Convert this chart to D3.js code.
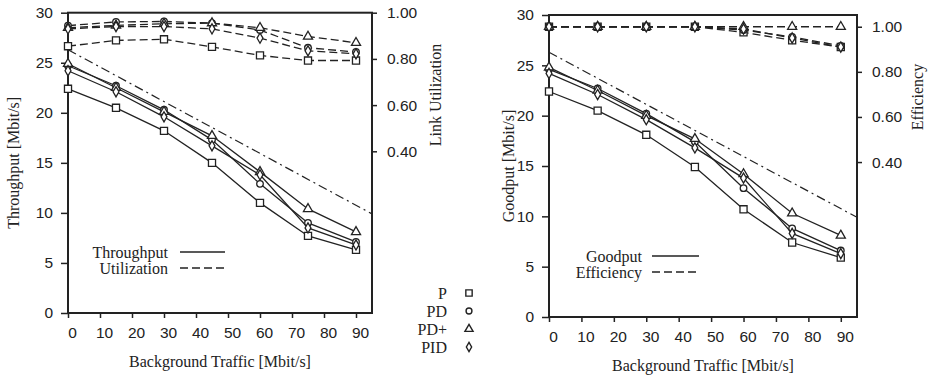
<!DOCTYPE html>
<html>
<head>
<meta charset="utf-8">
<script src="https://cdn.jsdelivr.net/npm/d3@7"></script>
<style>
  html, body { margin: 0; padding: 0; background: #fff; }
  svg { display: block; font-family: "Liberation Serif", "DejaVu Serif", serif; }
</style>
</head>
<body>
<svg id="chart" width="932" height="377"></svg>
<script>
// ---------- data ----------
const bgTraffic = [0, 15, 30, 45, 60, 75, 90];
const controllers = ["P", "PD", "PD+", "PID"];
const xTicks = [0, 10, 20, 30, 40, 50, 60, 70, 80, 90];
const yTicks = [0, 5, 10, 15, 20, 25, 30];
const rightTicks = [0.4, 0.6, 0.8, 1.0];

const throughputP     = [22.4, 20.5, 18.2, 15.0, 11.0, 7.7, 6.3];
const throughputPD    = [24.7, 22.7, 20.3, 17.3, 12.9, 9.0, 7.1];
const throughputPDp   = [24.9, 22.5, 20.1, 17.7, 14.1, 10.4, 8.1];
const throughputPID   = [24.2, 22.1, 19.6, 16.7, 13.8, 8.5, 6.8];

const utilizationP    = [0.855, 0.880, 0.885, 0.852, 0.815, 0.793, 0.793];
const utilizationPD   = [0.944, 0.960, 0.962, 0.955, 0.925, 0.848, 0.830];
const utilizationPDp  = [0.935, 0.945, 0.952, 0.955, 0.935, 0.897, 0.870];
const utilizationPID  = [0.930, 0.940, 0.940, 0.930, 0.890, 0.835, 0.822];

const goodputP        = [22.4, 20.5, 18.1, 14.9, 10.7, 7.4, 5.9];
const goodputPD       = [24.6, 22.7, 20.2, 17.4, 12.8, 8.8, 6.6];
const goodputPDp      = [24.8, 22.5, 20.0, 17.7, 14.2, 10.3, 8.1];
const goodputPID      = [24.2, 22.1, 19.6, 16.8, 13.8, 8.3, 6.3];

const efficiencyP     = [1.0, 1.0, 1.0, 1.0, 0.975, 0.940, 0.910];
const efficiencyPD    = [1.0, 1.0, 1.0, 1.0, 0.985, 0.955, 0.915];
const efficiencyPDp   = [1.0, 1.0, 1.0, 1.0, 1.0, 1.0, 1.0];
const efficiencyPID   = [1.0, 1.0, 1.0, 1.0, 0.990, 0.950, 0.910];

const refTraffic  = [0, 95];
const refCapacity = [26.3, 9.9];

// ---------- drawing ----------
const INK = "#222";
const svg = d3.select("#chart");
const symbolTypes = [d3.symbolSquare, d3.symbolCircle, d3.symbolTriangle, d3.symbolDiamond];
const symbolSizes = [50, 34, 36, 30];

function panel(cfg) {
  const x = d3.scaleLinear().domain([0, 95]).range([cfg.left, cfg.right]);
  const y = d3.scaleLinear().domain([0, 30]).range([cfg.bottom, cfg.top]);
  const y2 = d3.scaleLinear().domain(cfg.y2Domain).range([cfg.bottom, cfg.top]);
  const g = svg.append("g");

  // axes
  const ax = g.append("g").attr("transform", `translate(0,${cfg.bottom})`)
    .call(d3.axisBottom(x).tickValues(xTicks).tickSize(5).tickSizeOuter(0).tickPadding(9));
  const ay = g.append("g").attr("transform", `translate(${cfg.left},0)`)
    .call(d3.axisLeft(y).tickValues(yTicks).tickSize(7).tickSizeOuter(0).tickPadding(8));
  const ay2 = g.append("g").attr("transform", `translate(${cfg.right},0)`)
    .call(d3.axisRight(y2).tickValues(rightTicks).tickFormat(d3.format(".2f")).tickSize(5).tickSizeOuter(0).tickPadding(10));
  [ax, ay, ay2].forEach(a => {
    a.select(".domain").remove();
    a.selectAll("line").attr("stroke", INK).attr("stroke-width", 1.5);
    a.selectAll("text").attr("fill", INK).style("font-size", "15.5px");
  });
  ax.selectAll("text").attr("dx", 4);

  // frame
  g.append("rect").attr("x", cfg.left).attr("y", cfg.top)
    .attr("width", cfg.right - cfg.left).attr("height", cfg.bottom - cfg.top)
    .attr("fill", "none").attr("stroke", INK).attr("stroke-width", 2);

  // reference dash-dot line
  const refLine = d3.line().x((d, i) => x(refTraffic[i])).y(d => y(d));
  g.append("path").attr("d", refLine(refCapacity)).attr("fill", "none")
    .attr("stroke", INK).attr("stroke-width", 1.2).attr("stroke-dasharray", "9,4,2,4");

  // series
  const solidLine = d3.line().x((d, i) => x(bgTraffic[i])).y(d => y(d));
  const dashLine = d3.line().x((d, i) => x(bgTraffic[i])).y(d => y2(d));
  cfg.solid.forEach(s => g.append("path").attr("d", solidLine(s)).attr("fill", "none")
    .attr("stroke", INK).attr("stroke-width", 1.3));
  cfg.dashed.forEach(s => g.append("path").attr("d", dashLine(s)).attr("fill", "none")
    .attr("stroke", INK).attr("stroke-width", 1.3).attr("stroke-dasharray", "8,4"));

  const markers = (series, scale) => series.forEach((s, k) => {
    g.append("g").selectAll("path").data(s).join("path")
      .attr("transform", (d, i) => `translate(${x(bgTraffic[i])},${scale(d)})`)
      .attr("d", d3.symbol().type(symbolTypes[k]).size(symbolSizes[k]))
      .attr("fill", "#fff").attr("stroke", INK).attr("stroke-width", 1.3);
  });
  markers(cfg.solid, y);
  markers(cfg.dashed, y2);

  // axis titles
  const cx = (cfg.left + cfg.right) / 2;
  g.append("text").attr("x", cx).attr("y", cfg.bottom + 54).attr("text-anchor", "middle")
    .attr("fill", INK).style("font-size", "16px").text("Background Traffic [Mbit/s]");
  g.append("text").attr("transform", `translate(${cfg.yTitleX},${(cfg.top + cfg.bottom) / 2}) rotate(-90)`)
    .attr("text-anchor", "middle").attr("dy", "0.35em").attr("fill", INK).style("font-size", "16px").text(cfg.yTitle);
  g.append("text").attr("transform", `translate(${cfg.y2TitleX},${cfg.y2TitleY}) rotate(-90)`)
    .attr("text-anchor", "middle").attr("dy", "0.35em").attr("fill", INK).style("font-size", "16px").text(cfg.y2Title);

  // line-style legend
  cfg.legend.forEach((lab, i) => {
    const ly = cfg.legendY + i * 16;
    g.append("text").attr("x", cfg.legendTextX).attr("y", ly).attr("dy", "0.35em")
      .attr("text-anchor", "end").attr("fill", INK).style("font-size", "16px").text(lab);
    g.append("line").attr("x1", cfg.legendLine[0]).attr("x2", cfg.legendLine[1])
      .attr("y1", ly).attr("y2", ly).attr("stroke", INK).attr("stroke-width", 1.3)
      .attr("stroke-dasharray", i === 0 ? null : "8,4");
  });
}

panel({
  left: 68, right: 372, top: 12.7, bottom: 313,
  y2Domain: [-0.3, 1.0],
  solid: [throughputP, throughputPD, throughputPDp, throughputPID],
  dashed: [utilizationP, utilizationPD, utilizationPDp, utilizationPID],
  yTitle: "Throughput [Mbit/s]", yTitleX: 13,
  y2Title: "Link Utilization", y2TitleX: 435, y2TitleY: 95,
  legend: ["Throughput", "Utilization"], legendY: 252, legendTextX: 168, legendLine: [180, 225]
});

panel({
  left: 549, right: 857, top: 15, bottom: 317,
  y2Domain: [-0.287, 1.052],
  solid: [goodputP, goodputPD, goodputPDp, goodputPID],
  dashed: [efficiencyP, efficiencyPD, efficiencyPDp, efficiencyPID],
  yTitle: "Goodput [Mbit/s]", yTitleX: 508,
  y2Title: "Efficiency", y2TitleX: 917, y2TitleY: 97,
  legend: ["Goodput", "Efficiency"], legendY: 256, legendTextX: 642, legendLine: [652, 699]
});

// marker legend (controllers)
const lg = svg.append("g");
controllers.forEach((c, i) => {
  const ly = 293 + i * 18;
  lg.append("text").attr("x", 447).attr("y", ly).attr("dy", "0.35em").attr("text-anchor", "end")
    .attr("fill", INK).style("font-size", "16px").text(c);
  lg.append("path").attr("transform", `translate(469,${ly})`)
    .attr("d", d3.symbol().type(symbolTypes[i]).size(symbolSizes[i] * 0.8))
    .attr("fill", "#fff").attr("stroke", INK).attr("stroke-width", 1.4);
});
</script>
</body>
</html>
